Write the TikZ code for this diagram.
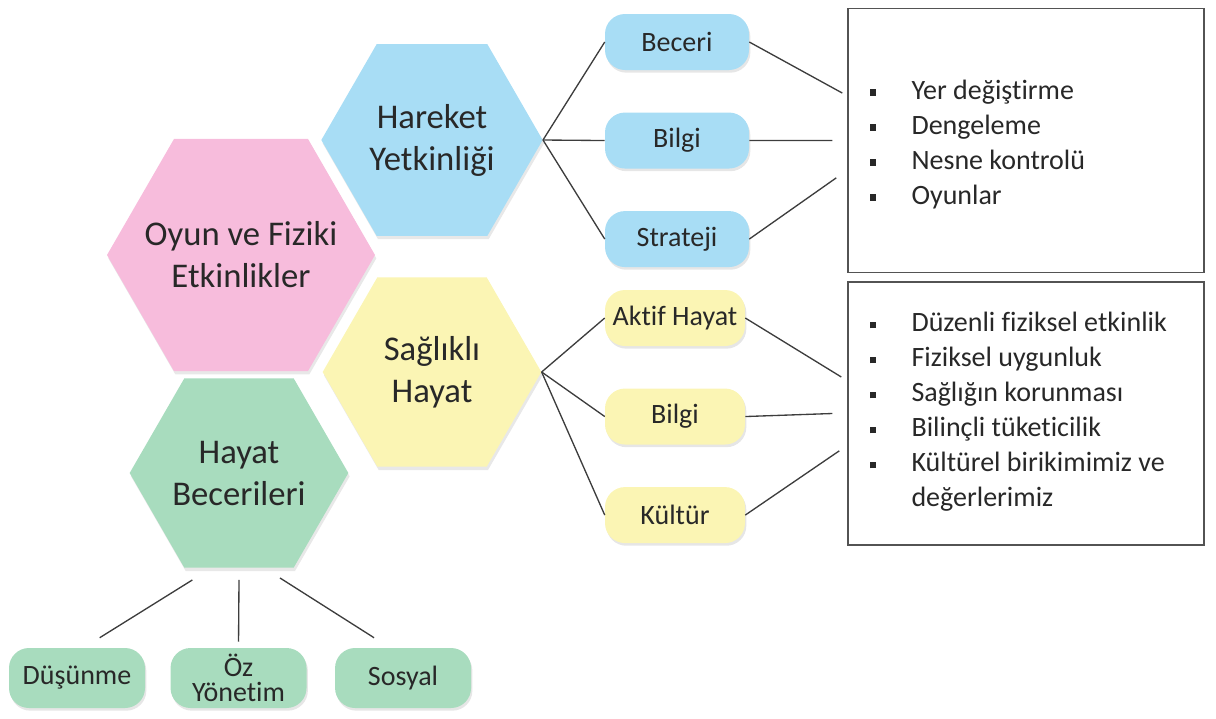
\documentclass[tikz,border=0pt]{standalone}
\usepackage{fontspec}
\setmainfont[Ligatures=NoCommon]{Carlito}
\usepackage{tikz}
\usetikzlibrary{shapes,positioning,shadows}
\definecolor{hexblue}{RGB}{168,221,245}
\definecolor{hexpink}{RGB}{247,188,220}
\definecolor{hexyellow}{RGB}{251,245,180}
\definecolor{hexgreen}{RGB}{168,220,190}
\definecolor{inkcolor}{RGB}{40,40,40}
\newcommand{\sqbullet}{\makebox[31.5pt][l]{\rule[2.8pt]{4.8pt}{4.8pt}}}

\begin{document}
\begin{tikzpicture}[
    x=0.75pt, y=-0.75pt,
    hexa/.style={regular polygon, regular polygon sides=6, inner sep=0pt, drop shadow={opacity=0.18, shadow xshift=1pt, shadow yshift=-2.5pt}},
    hextext/.style={align=center, inner sep=0pt, text=inkcolor, font=\fontsize{26}{31.5}\selectfont},
    pill/.style={rectangle, rounded corners=15pt, minimum width=108pt, minimum height=42pt, inner sep=0pt, align=center, text=inkcolor, font=\fontsize{21}{19}\selectfont, drop shadow={opacity=0.2, shadow xshift=1pt, shadow yshift=-2pt}},
    listbox/.style={rectangle, draw=inkcolor!80, line width=1.1pt, minimum width=267pt, minimum height=198pt},
    listtext/.style={align=left, inner sep=0pt, text=inkcolor, font=\fontsize{21}{26.25}\selectfont},
    link/.style={draw=inkcolor!90, line width=1pt}
]
\useasboundingbox (0,0) rectangle (1216,718);

% Hexagons
\node[hexa, fill=hexpink, minimum size=201pt] (oyun) at (241,255) {};
\node[hexa, fill=hexblue, minimum size=166pt] (hareket) at (432,140) {};
\node[hexa, fill=hexyellow, minimum size=164pt] (saglikli) at (432,372) {};
\node[hexa, fill=hexgreen, minimum size=164pt] (hayatbec) at (239,473) {};
\node[hextext] (oyun-t) at (oyun) {Oyun ve Fiziki\\Etkinlikler};
\node[hextext] (hareket-t) at (hareket) {Hareket\\Yetkinliği};
\node[hextext] (saglikli-t) at (saglikli) {Sağlıklı\\Hayat};
\node[hextext] (hayatbec-t) at (hayatbec) {Hayat\\Becerileri};

% Blue pills
\node[pill, fill=hexblue] (beceri) at (677,42) {Beceri};
\node[pill, fill=hexblue, below=31.5pt of beceri] (bilgi1) {Bilgi};
\node[pill, fill=hexblue, below=31.5pt of bilgi1] (strateji) {Strateji};

% Yellow pills
\node[pill, fill=hexyellow, minimum width=105pt] (aktif) at (675,318) {Aktif Hayat};
\node[pill, fill=hexyellow, minimum width=105pt, below=31.5pt of aktif] (bilgi2) {Bilgi};
\node[pill, fill=hexyellow, minimum width=105pt, below=31.5pt of bilgi2] (kultur) {Kültür};

% Green pills
\node[pill, fill=hexgreen, minimum width=102pt, minimum height=45pt] (dusunme) at (77,678) {Düşünme};
\node[pill, fill=hexgreen, minimum width=102pt, minimum height=45pt, right=18.75pt of dusunme] (ozyonetim) {Öz\\Yönetim};
\node[pill, fill=hexgreen, minimum width=102pt, minimum height=45pt, right=21pt of ozyonetim] (sosyal) {Sosyal};

% Boxes
\node[listbox] (box1) at (1026,140.5) {};
\node[listbox, minimum height=197pt] (box2) at (1026,413.5) {};
\node[listtext, anchor=west] (list1) at ([xshift=16.5pt,yshift=-3pt]box1.west) {\sqbullet Yer değiştirme\\ \sqbullet Dengeleme\\ \sqbullet Nesne kontrolü\\ \sqbullet Oyunlar};
\node[listtext, anchor=west] (list2) at ([xshift=16.5pt,yshift=1pt]box2.west) {\sqbullet Düzenli fiziksel etkinlik\\ \sqbullet Fiziksel uygunluk\\ \sqbullet Sağlığın korunması\\ \sqbullet Bilinçli tüketicilik\\ \sqbullet Kültürel birikimimiz ve\\ \hspace*{31.5pt}değerlerimiz};

% Free ends
\coordinate (b1a) at ([xshift=-3.75pt,yshift=35.6pt]box1.west);
\coordinate (b1b) at ([xshift=-11.25pt]box1.west);
\coordinate (b1c) at ([xshift=-8.25pt,yshift=-28pt]box1.west);
\coordinate (b2a) at ([xshift=-4.5pt,yshift=27.4pt]box2.west);
\coordinate (b2b) at ([xshift=-11.25pt]box2.west);
\coordinate (b2c) at ([xshift=-6pt,yshift=-28pt]box2.west);
\coordinate (hb1) at ([xshift=-35pt,yshift=-9pt]hayatbec.south);
\coordinate (hb2) at ([yshift=-9pt]hayatbec.south);
\coordinate (hb3) at ([xshift=30.75pt,yshift=-7.5pt]hayatbec.south);
\coordinate (dus) at ([xshift=17pt,yshift=7.5pt]dusunme.north);
\coordinate (oz) at ([yshift=4.5pt]ozyonetim.north);
\coordinate (sos) at ([xshift=-21.75pt,yshift=7.5pt]sosyal.north);

% Connectors
\draw[link] (hareket.east) -- (beceri.west);
\draw[link] (hareket.east) -- (bilgi1.west);
\draw[link] (hareket.east) -- (strateji.west);
\draw[link] (saglikli.east) -- (aktif.west);
\draw[link] (saglikli.east) -- (bilgi2.west);
\draw[link] (saglikli.east) -- (kultur.west);

\draw[link] (beceri.east) -- (b1a);
\draw[link] (bilgi1.east) -- (b1b);
\draw[link] (strateji.east) -- (b1c);
\draw[link] (aktif.east) -- (b2a);
\draw[link] (bilgi2.east) -- (b2b);
\draw[link] (kultur.east) -- (b2c);

\draw[link] (hb1) -- (dus);
\draw[link] (hb2) -- (oz);
\draw[link] (hb3) -- (sos);

\end{tikzpicture}
\end{document}
